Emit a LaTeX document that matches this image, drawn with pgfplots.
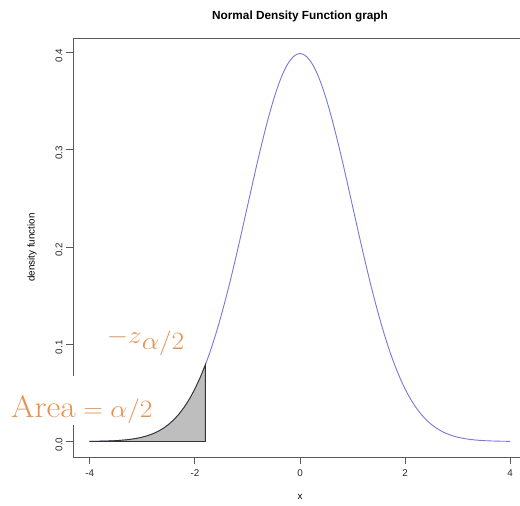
\documentclass[border=0pt]{standalone}
\usepackage{fontspec}
\newfontfamily\arial{Liberation Sans}
\usepackage{pgfplots}
\pgfplotsset{compat=1.18}

\definecolor{curveblue}{RGB}{120,120,218}
\definecolor{shade}{RGB}{190,190,190}
\definecolor{labelorange}{RGB}{230,145,80}
\definecolor{axisgray}{RGB}{90,90,90}

\pgfplotstableread{
x y
-4.0 0.000134
-3.9 0.000199
-3.8 0.000292
-3.7 0.000425
-3.6 0.000612
-3.5 0.000873
-3.4 0.001232
-3.3 0.001723
-3.2 0.002384
-3.1 0.003267
-3.0 0.004432
-2.9 0.005953
-2.8 0.007915
-2.7 0.010421
-2.6 0.013583
-2.5 0.017528
-2.4 0.022395
-2.3 0.028327
-2.2 0.035475
-2.1 0.043984
-2.0 0.053991
-1.9 0.065616
-1.8 0.078950
-1.7 0.094049
-1.6 0.110921
-1.5 0.129518
-1.4 0.149727
-1.3 0.171369
-1.2 0.194186
-1.1 0.217852
-1.0 0.241971
-0.9 0.266085
-0.8 0.289692
-0.7 0.312254
-0.6 0.333225
-0.5 0.352065
-0.4 0.368270
-0.3 0.381388
-0.2 0.391043
-0.1 0.396953
0.0 0.398942
0.1 0.396953
0.2 0.391043
0.3 0.381388
0.4 0.368270
0.5 0.352065
0.6 0.333225
0.7 0.312254
0.8 0.289692
0.9 0.266085
1.0 0.241971
1.1 0.217852
1.2 0.194186
1.3 0.171369
1.4 0.149727
1.5 0.129518
1.6 0.110921
1.7 0.094049
1.8 0.078950
1.9 0.065616
2.0 0.053991
2.1 0.043984
2.2 0.035475
2.3 0.028327
2.4 0.022395
2.5 0.017528
2.6 0.013583
2.7 0.010421
2.8 0.007915
2.9 0.005953
3.0 0.004432
3.1 0.003267
3.2 0.002384
3.3 0.001723
3.4 0.001232
3.5 0.000873
3.6 0.000612
3.7 0.000425
3.8 0.000292
3.9 0.000199
4.0 0.000134
}\densitydata

\begin{document}
\begin{tikzpicture}
  \useasboundingbox (-73pt,-49pt) rectangle (447pt,457pt);
  \clip (-73pt,-49pt) rectangle (447pt,457pt);
  \fill[white] (-73pt,-49pt) rectangle (447pt,457pt);
  \begin{axis}[
      scale only axis,
      width=454pt, height=419pt,
      xmin=-4.32, xmax=4.32,
      ymin=-0.01596, ymax=0.41490,
      axis line style={axisgray, line width=0.9pt},
      tick style={axisgray, line width=0.9pt},
      tick align=outside,
      major tick length=7pt,
      xtick={-4,-2,0,2,4},
      xticklabels={-4,-2,0,2,4},
      ytick={0,0.1,0.2,0.3,0.4},
      yticklabels={0.0,0.1,0.2,0.3,0.4},
      xtick pos=bottom, ytick pos=left,
      every tick label/.append style={font=\arial\fontsize{9.8}{11}\selectfont, text=black!85},
      xticklabel style={yshift=-2pt},
      yticklabel style={rotate=90, anchor=south, xshift=-3pt},
      title={Normal Density Function graph},
      title style={font=\arial\bfseries\fontsize{11.8}{13}\selectfont, at={(axis description cs:0.5,1)}, anchor=center, yshift=16pt},
      xlabel={x},
      xlabel style={font=\arial\fontsize{9.8}{11}\selectfont, at={(axis description cs:0.5,0)}, anchor=center, yshift=-40pt},
      ylabel={density function},
      ylabel style={font=\arial\fontsize{9.8}{11}\selectfont, at={(axis description cs:-0.0903,0.5)}, anchor=center},
      clip=false,
    ]
    \addplot[curveblue, line width=0.9pt, smooth] table {\densitydata};
    \addplot[fill=shade, draw=black!80, line width=0.9pt] coordinates {
      (-4.0,0) (-4.0,0.000134) (-3.9,0.000199) (-3.8,0.000292) (-3.7,0.000425)
      (-3.6,0.000612) (-3.5,0.000873) (-3.4,0.001232) (-3.3,0.001723)
      (-3.2,0.002384) (-3.1,0.003267) (-3.0,0.004432) (-2.9,0.005953)
      (-2.8,0.007915) (-2.7,0.010421) (-2.6,0.013583) (-2.5,0.017528)
      (-2.4,0.022395) (-2.3,0.028327) (-2.2,0.035475) (-2.1,0.043984)
      (-2.0,0.053991) (-1.9,0.065616) (-1.8,0.078950) (-1.8,0)
    } -- cycle;
    \node[labelorange, font=\fontsize{31}{34}\selectfont, anchor=base west, inner sep=0pt]
      at (axis cs:-3.68,0.1010) {\scalebox{1.1}[1]{$-z$\raisebox{-6pt}{\fontsize{25}{27}\selectfont$\alpha/2$}}};
    \node[labelorange, fill=white, font=\fontsize{31}{34}\selectfont, anchor=base west, inner xsep=0pt, inner ysep=0pt, text height=42pt, text depth=7pt]
      at (axis cs:-5.50,0.0242) {\scalebox{1.09}[1]{$\mathrm{Area}=\alpha/2$}};
  \end{axis}
\end{tikzpicture}
\end{document}
